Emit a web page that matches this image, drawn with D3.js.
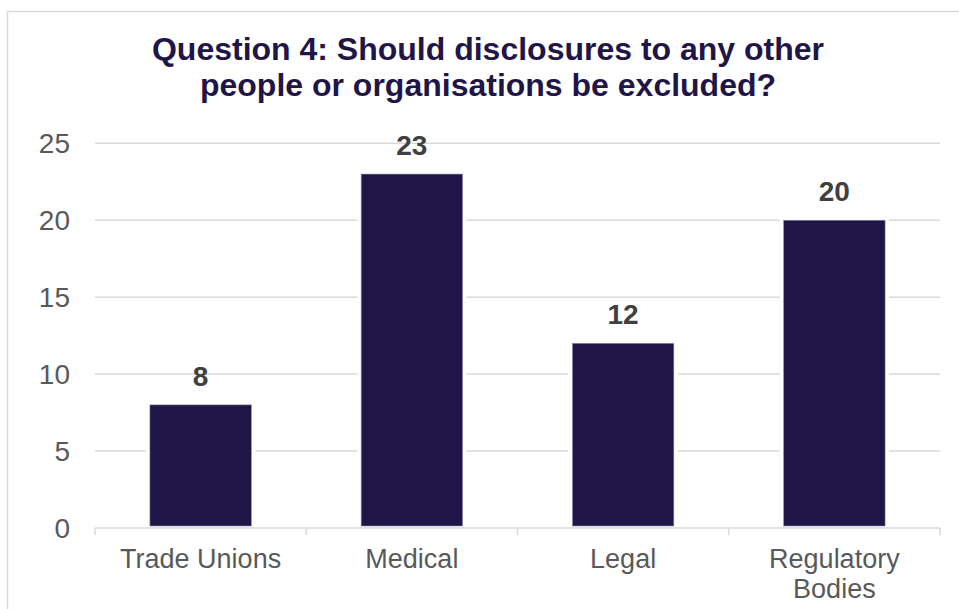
<!DOCTYPE html>
<html>
<head>
<meta charset="utf-8">
<script src="https://cdn.jsdelivr.net/npm/d3@7"></script>
<style>
  html, body { margin: 0; padding: 0; background: #ffffff; }
  svg { display: block; font-family: "Liberation Sans", Arial, sans-serif; }
</style>
</head>
<body>
<svg id="chart" width="959" height="609"></svg>
<script>
// Responses per category
const categories = [["Trade Unions"], ["Medical"], ["Legal"], ["Regulatory", "Bodies"]];
const values = [8, 23, 12, 20];
const yTicks = [0, 5, 10, 15, 20, 25];
const titleLines = ["Question 4: Should disclosures to any other", "people or organisations be excluded?"];

const svg = d3.select("#chart");
const plot = { left: 95, right: 940, top: 143.3, bottom: 528 };

const navy = "#1f1647";
const gridColor = "#d9d9d9";

// outer frame (cropped at right/bottom)
svg.append("rect")
  .attr("x", 7.5).attr("y", 11.5)
  .attr("width", 1000).attr("height", 700)
  .attr("fill", "#ffffff")
  .attr("stroke", "#d9d9d9").attr("stroke-width", 1.5);

const keys = categories.map(c => c.join(" "));
const x = d3.scaleBand().domain(keys).range([plot.left, plot.right]).paddingInner(0.52).paddingOuter(0.26);
const xb = d3.scaleBand().domain(keys).range([plot.left, plot.right]);
const y = d3.scaleLinear().domain([0, 25]).range([plot.bottom, plot.top]);

// title
svg.append("text")
  .attr("x", 488).attr("y", 60)
  .attr("text-anchor", "middle")
  .attr("font-size", 32).attr("font-weight", "bold")
  .attr("fill", navy)
  .selectAll("tspan").data(titleLines).join("tspan")
  .attr("x", 488).attr("dy", (d, i) => i === 0 ? 0 : 36)
  .text(d => d);

// gridlines
svg.append("g")
  .selectAll("line").data(yTicks.filter(t => t > 0)).join("line")
  .attr("x1", plot.left).attr("x2", plot.right)
  .attr("y1", d => y(d)).attr("y2", d => y(d))
  .attr("stroke", gridColor).attr("stroke-width", 1.5);

// y tick labels
svg.append("g")
  .selectAll("text").data(yTicks).join("text")
  .attr("x", 70).attr("y", d => y(d))
  .attr("dy", "0.36em")
  .attr("text-anchor", "end")
  .attr("font-size", 28)
  .attr("fill", "#595959")
  .text(d => d);

// x axis line and boundary ticks
const xAxis = d3.axisBottom(xb).tickSize(0).tickFormat("");
const gx = svg.append("g").attr("transform", `translate(0,${plot.bottom})`).call(xAxis);
gx.select(".domain").attr("stroke", gridColor).attr("stroke-width", 1.5)
  .attr("d", `M${plot.left},0H${plot.right}`);
const bounds = keys.map(k => xb(k)).concat([plot.right]);
gx.selectAll(".bound").data(bounds).join("line")
  .attr("class", "bound")
  .attr("x1", d => d).attr("x2", d => d)
  .attr("y1", 0).attr("y2", 7)
  .attr("stroke", gridColor).attr("stroke-width", 1.5);

// bars: white halo, then fill with thin light edge
const bars = svg.append("g");
bars.selectAll("rect.halo").data(values).join("rect")
  .attr("class", "halo")
  .attr("x", (d, i) => x(keys[i]) - 4)
  .attr("y", d => y(d) - 4)
  .attr("width", x.bandwidth() + 8)
  .attr("height", d => plot.bottom - y(d) + 3)
  .attr("fill", "#ffffff");
bars.selectAll("rect.bar").data(values).join("rect")
  .attr("class", "bar")
  .attr("x", (d, i) => x(keys[i]))
  .attr("y", d => y(d))
  .attr("width", x.bandwidth())
  .attr("height", d => plot.bottom - 2 - y(d))
  .attr("fill", navy)
  .attr("stroke", "#8c87a8").attr("stroke-width", 0.6);

// value labels
svg.append("g")
  .selectAll("text").data(values).join("text")
  .attr("x", (d, i) => x(keys[i]) + x.bandwidth() / 2)
  .attr("y", d => y(d) - 19)
  .attr("text-anchor", "middle")
  .attr("font-size", 28).attr("font-weight", "bold")
  .attr("fill", "#404040")
  .text(d => d);

// category labels
const cl = svg.append("g")
  .selectAll("text").data(categories).join("text")
  .attr("x", (d, i) => xb(keys[i]) + xb.bandwidth() / 2)
  .attr("y", 568)
  .attr("text-anchor", "middle")
  .attr("font-size", 27)
  .attr("fill", "#595959");
cl.selectAll("tspan").data(d => d).join("tspan")
  .attr("x", function () { return d3.select(this.parentNode).attr("x"); })
  .attr("dy", (d, i) => i === 0 ? 0 : 29.5)
  .text(d => d);
</script>
</body>
</html>
